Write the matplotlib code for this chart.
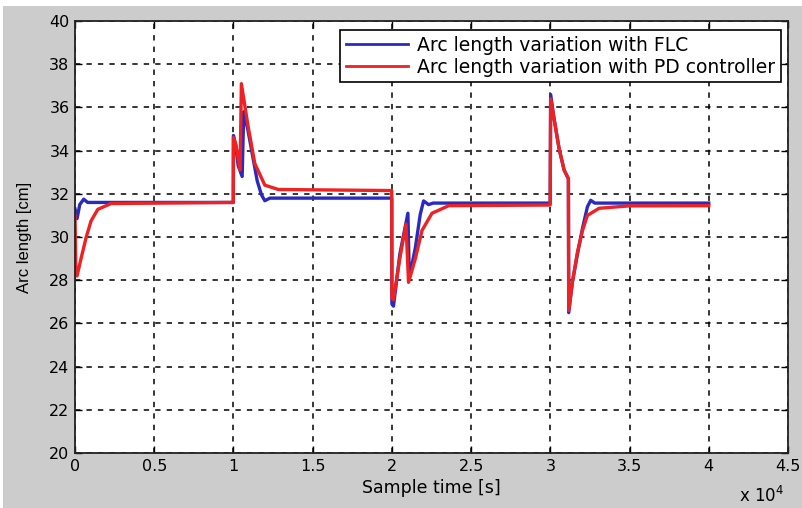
import matplotlib.pyplot as plt
import matplotlib.patches as mpatches

plt.rcParams['font.family'] = ['DejaVu Sans']

# Arc length with fuzzy logic controller (time in s, value in cm)
t_flc = [0, 130, 300, 550, 800, 9990, 10000, 10150, 10300, 10550, 10650, 10900,
         11200, 11500, 11770, 11980, 12300, 19990, 20000, 20100, 20500, 21010,
         21100, 21480, 21790, 22000, 22320, 22600, 29990, 30020, 30230, 30550,
         30870, 31140, 31160, 31390, 31710, 32030, 32340, 32550, 32800, 40000]
arc_flc = [31.3, 30.85, 31.5, 31.75, 31.6, 31.6, 34.7, 34.2, 33.3, 32.8, 35.8, 35.0,
           33.8, 32.6, 31.95, 31.68, 31.8, 31.8, 26.9, 26.8, 29.2, 31.1,
           28.1, 29.5, 31.05, 31.67, 31.5, 31.57, 31.57, 36.6, 35.5, 34.1,
           33.1, 32.7, 26.5, 27.9, 29.2, 30.4, 31.4, 31.7, 31.57, 31.57]

# Arc length with PD controller
t_pd = [0, 60, 130, 380, 700, 1010, 1440, 2280, 9990, 10000, 10150, 10420, 10500,
        10930, 11350, 11980, 12830, 19990, 20000, 20100, 20500, 20890, 21050,
        21480, 21900, 22530, 23590, 29990, 30020, 30230, 30550, 30870, 31140,
        31160, 31390, 31710, 32030, 32340, 33080, 34970, 40000]
arc_pd = [31.0, 28.2, 28.2, 29.0, 29.97, 30.74, 31.28, 31.55, 31.6, 34.6, 34.3, 33.1, 37.1,
          35.1, 33.4, 32.4, 32.2, 32.15, 27.2, 27.1, 29.0, 30.6, 27.9,
          29.0, 30.3, 31.1, 31.45, 31.48, 36.4, 35.5, 34.1, 33.1, 32.7,
          26.6, 27.9, 29.3, 30.3, 31.0, 31.33, 31.44, 31.45]

x_ticks = [0, 0.5, 1, 1.5, 2, 2.5, 3, 3.5, 4, 4.5]
x_tick_labels = ['0', '0.5', '1', '1.5', '2', '2.5', '3', '3.5', '4', '4.5']
y_ticks = [20, 22, 24, 26, 28, 30, 32, 34, 36, 38, 40]

fig = plt.figure(figsize=(8.03, 5.08), dpi=100, facecolor='#cccccc')
# thin white strip along top and left like the source image
fig.patches.append(mpatches.Rectangle((0, 0.988), 1, 0.012, transform=fig.transFigure,
                                      facecolor='white', edgecolor='none'))
fig.patches.append(mpatches.Rectangle((0, 0), 0.004, 1, transform=fig.transFigure,
                                      facecolor='white', edgecolor='none'))

ax = fig.add_axes([75 / 803, 1 - 453 / 508, 713 / 803, 432 / 508])
ax.set_facecolor('white')

ax.plot([t / 1e4 for t in t_flc], arc_flc, color='#2a2ac0', lw=2.4,
        label='Arc length variation with FLC')
ax.plot([t / 1e4 for t in t_pd], arc_pd, color='#ee2222', lw=2.4,
        label='Arc length variation with PD controller')

ax.set_xlim(0, 4.5)
ax.set_ylim(20, 40)
ax.set_xticks(x_ticks)
ax.set_xticklabels(x_tick_labels)
ax.set_yticks(y_ticks)
ax.tick_params(direction='in', top=True, right=True, length=5, width=1,
               labelsize=11.5, colors='black', pad=4)
ax.grid(True, color='black', linestyle=(0, (3.5, 4)), linewidth=1.1)
for s in ax.spines.values():
    s.set_linewidth(1.3)
    s.set_color('#222222')

ax.set_xlabel('Sample time [s]', fontsize=12.5, labelpad=4)
ax.set_ylabel('Arc length [cm]', fontsize=12, labelpad=12,
              fontfamily='Liberation Sans')
fig.text(0.949, 0.012, r'x 10$^{4}$', fontsize=12, ha='center', va='baseline')

leg = ax.legend(loc='upper right', bbox_to_anchor=(0.990, 0.979), borderaxespad=0,
                fontsize=13.5, handlelength=3.3, fancybox=False, framealpha=1,
                edgecolor='black', borderpad=0.3, labelspacing=0.15, handletextpad=0.5)
leg.get_frame().set_linewidth(1.2)
for line in leg.get_lines():
    line.set_linewidth(2)

fig.savefig('out.png', dpi=100, facecolor=fig.get_facecolor())
